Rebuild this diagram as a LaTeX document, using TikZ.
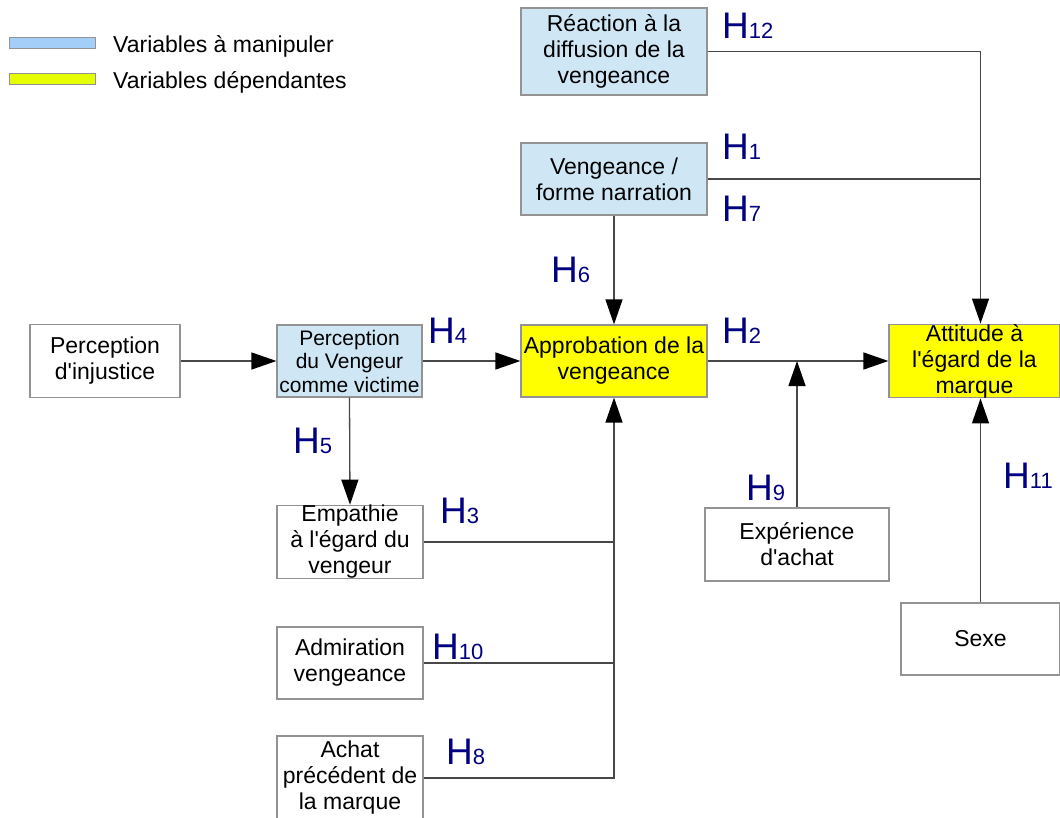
\documentclass[tikz,border=0pt]{standalone}
\usepackage{fontspec}
\setmainfont{Liberation Sans}[Ligatures=TeXOff]
\usetikzlibrary{arrows.meta}

\definecolor{manipblue}{HTML}{CFE7F5}
\definecolor{depyellow}{HTML}{FFFF00}
\definecolor{legblue}{HTML}{A3CEF7}
\definecolor{legyellow}{HTML}{E6FF00}
\definecolor{hypblue}{HTML}{000080}
\definecolor{boxline}{HTML}{939393}
\definecolor{linegray}{HTML}{484848}

\newcommand{\hypo}[1]{{\fontsize{37}{37}\selectfont H}{\fontsize{22}{22}\selectfont #1}}

\tikzset{
  box/.style={draw=boxline, line width=1.2pt, rectangle, align=center, inner sep=0pt,
    font=\fontsize{23}{26}\selectfont},
  manip/.style={box, fill=manipblue},
  dep/.style={box, fill=depyellow},
  swatch/.style={draw=boxline, line width=1pt, minimum width=86pt, minimum height=11pt, inner sep=0pt},
  legtext/.style={anchor=base west, inner sep=0pt, font=\fontsize{23}{26}\selectfont},
  hyp/.style={anchor=base west, inner sep=0pt, text=hypblue},
  link/.style={draw=linegray, line width=1.3pt},
  arr/.style={link, -{Triangle[length=25pt,width=17pt,color=black]}},
}

\begin{document}
\begin{tikzpicture}[x=1pt,y=-1pt]
    \useasboundingbox (0,0) rectangle (1060,818);
    \node[swatch, fill=legblue] (legmanip) at (52,43) {};
    \node[swatch, fill=legyellow] (legdep) at (52,79) {};
    \node[legtext] (legmaniptxt) at (113,53) {Variables à manipuler};
    \node[legtext] (legdeptxt) at (113,89) {Variables dépendantes};

    \node[manip, minimum width=186pt, minimum height=87pt] (reac) at (614,51.5) {Réaction à la\\diffusion de la\\vengeance};
    \node[manip, minimum width=186pt, minimum height=72pt] (veng) at (614,179) {Vengeance /\\forme narration};
    \node[box, minimum width=150pt, minimum height=73pt] (injust) at (105,361) {Perception\\d'injustice};
    \node[manip, minimum width=145pt, minimum height=72pt, font=\fontsize{21}{23.5}\selectfont] (victime) at (349.5,361) {Perception\\du Vengeur\\comme victime};
    \node[dep, minimum width=186pt, minimum height=72pt] (approb) at (614,361) {Approbation de la\\vengeance};
    \node[dep, minimum width=171pt, minimum height=72pt] (attitude) at (974.5,361) {Attitude à\\l'égard de la\\marque};
    \node[box, minimum width=146pt, minimum height=72pt] (empathie) at (350,542) {Empathie\\à l'égard du\\vengeur};
    \node[box, minimum width=146pt, minimum height=72pt] (admir) at (350,663) {Admiration\\vengeance};
    \node[box, minimum width=146pt, minimum height=84pt] (achat) at (350,778) {Achat\\précédent de\\la marque};
    \node[box, minimum width=184pt, minimum height=73pt] (exper) at (797,544.5) {Expérience\\d'achat};
    \node[box, minimum width=159pt, minimum height=72pt] (sexe) at (980.5,639) {Sexe};

    \draw[arr] (injust.east) -- (injust.east -| victime.west);
    \draw[arr] (victime.east) -- (approb.west);
    \draw[arr] (victime.south) -- (empathie.north);
    \draw[arr] (veng.south) -- (approb.north);
    \draw[arr] (approb.east) -- (attitude.west);
    \draw[arr] (exper.north) -- (exper.north |- approb.east);
    \draw[link] (reac.east) -| (sexe.north |- veng.east);
    \draw[arr] (veng.east) -| (sexe.north |- attitude.north);
    \draw[arr] (sexe.north) -- (sexe.north |- attitude.south);
    \draw[link] (empathie.east) -- (empathie.east -| approb.south);
    \draw[link] (admir.east) -- (admir.east -| approb.south);
    \draw[arr] (achat.east) -| (approb.south);

    \node[hyp] (h12) at (722,39) {\hypo{12}};
    \node[hyp] (h1) at (722,160) {\hypo{1}};
    \node[hyp] (h7) at (722,222) {\hypo{7}};
    \node[hyp] (h6) at (551,283) {\hypo{6}};
    \node[hyp] (h4) at (428,343) {\hypo{4}};
    \node[hyp] (h2) at (722,343) {\hypo{2}};
    \node[hyp] (h5) at (293,453) {\hypo{5}};
    \node[hyp] (h3) at (440,523) {\hypo{3}};
    \node[hyp] (h9) at (746,500) {\hypo{9}};
    \node[hyp] (h11) at (1003,488) {\hypo{11}};
    \node[hyp] (h10) at (432,659) {\hypo{10}};
    \node[hyp] (h8) at (446,764) {\hypo{8}};
\end{tikzpicture}
\end{document}
